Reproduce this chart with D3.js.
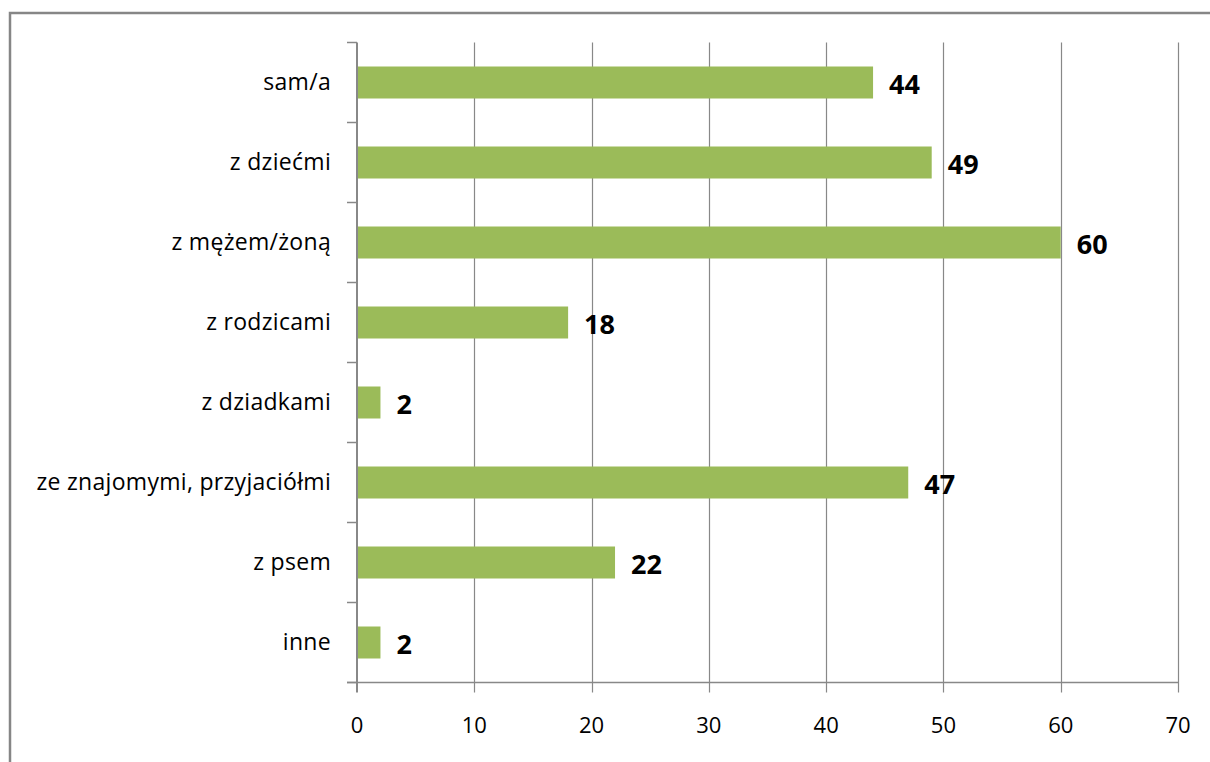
<!DOCTYPE html>
<html><head><meta charset="utf-8">
<script src="https://cdn.jsdelivr.net/npm/d3@7"></script>
<style>html,body{margin:0;padding:0;background:#fff;overflow:hidden}</style>
</head><body>
<svg id="c" width="1210" height="762"></svg>
<script>
const categories = ["sam/a","z dziećmi","z mężem/żoną","z rodzicami","z dziadkami","ze znajomymi, przyjaciółmi","z psem","inne"];
const values = [44,49,60,18,2,47,22,2];
const xTicks = [0,10,20,30,40,50,60,70];

(function(){
const svg = d3.select("#c");
const pLeft = 357, pRight = 1178, pTop = 42.5, pBottom = 682.5;
const font = "'Open Sans', 'Liberation Sans', sans-serif";

// outer frame
svg.append("rect").attr("x",10).attr("y",13).attr("width",1260).attr("height",800)
  .attr("fill","none").attr("stroke","#868686").attr("stroke-width",2.5);

const x = d3.scaleLinear().domain([0,70]).range([pLeft,pRight]);
const y = d3.scaleBand().domain(categories).range([pTop,pBottom]).paddingInner(0.6).paddingOuter(0.3);

// gridlines
svg.append("g").selectAll("line").data(xTicks.slice(1)).join("line")
  .attr("x1",d=>Math.round(x(d))+0.5).attr("x2",d=>Math.round(x(d))+0.5)
  .attr("y1",pTop).attr("y2",pBottom+10)
  .attr("stroke","#888").attr("stroke-width",1.2);

// bars
svg.append("g").selectAll("rect").data(values).join("rect")
  .attr("x",x(0)).attr("y",(d,i)=>y(categories[i]))
  .attr("width",d=>x(d)-x(0)).attr("height",y.bandwidth())
  .attr("fill","#9bbb59");

// x axis line
svg.append("line").attr("x1",pLeft-10).attr("x2",pRight).attr("y1",pBottom).attr("y2",pBottom)
  .attr("stroke","#888").attr("stroke-width",1.5);
// y axis line
svg.append("line").attr("x1",pLeft).attr("x2",pLeft).attr("y1",pTop).attr("y2",pBottom+10)
  .attr("stroke","#888").attr("stroke-width",2);
// y ticks (band boundaries)
const bounds = d3.range(categories.length+1).map(i=>pTop+i*(pBottom-pTop)/categories.length);
svg.append("g").selectAll("line").data(bounds).join("line")
  .attr("x1",pLeft-10).attr("x2",pLeft).attr("y1",d=>d).attr("y2",d=>d)
  .attr("stroke","#888").attr("stroke-width",1.5);

// x tick labels
svg.append("g").selectAll("text").data(xTicks).join("text")
  .attr("x",d=>x(d)).attr("y",733).attr("text-anchor","middle")
  .attr("font-family",font).attr("font-size",22).attr("fill","#000").text(d=>d);

// category labels
svg.append("g").selectAll("text").data(categories).join("text")
  .attr("x",331).attr("y",d=>y(d)+y.bandwidth()/2+7.5).attr("text-anchor","end")
  .attr("font-family",font).attr("font-size",23).attr("letter-spacing",0.3).attr("fill","#000").text(d=>d);

// value labels
svg.append("g").selectAll("text").data(values).join("text")
  .attr("x",d=>x(d)+16).attr("y",(d,i)=>y(categories[i])+y.bandwidth()/2+11.5)
  .attr("font-family",font).attr("font-size",27).attr("font-weight","bold").attr("fill","#000").text(d=>d);
})();
</script>
</body></html>
